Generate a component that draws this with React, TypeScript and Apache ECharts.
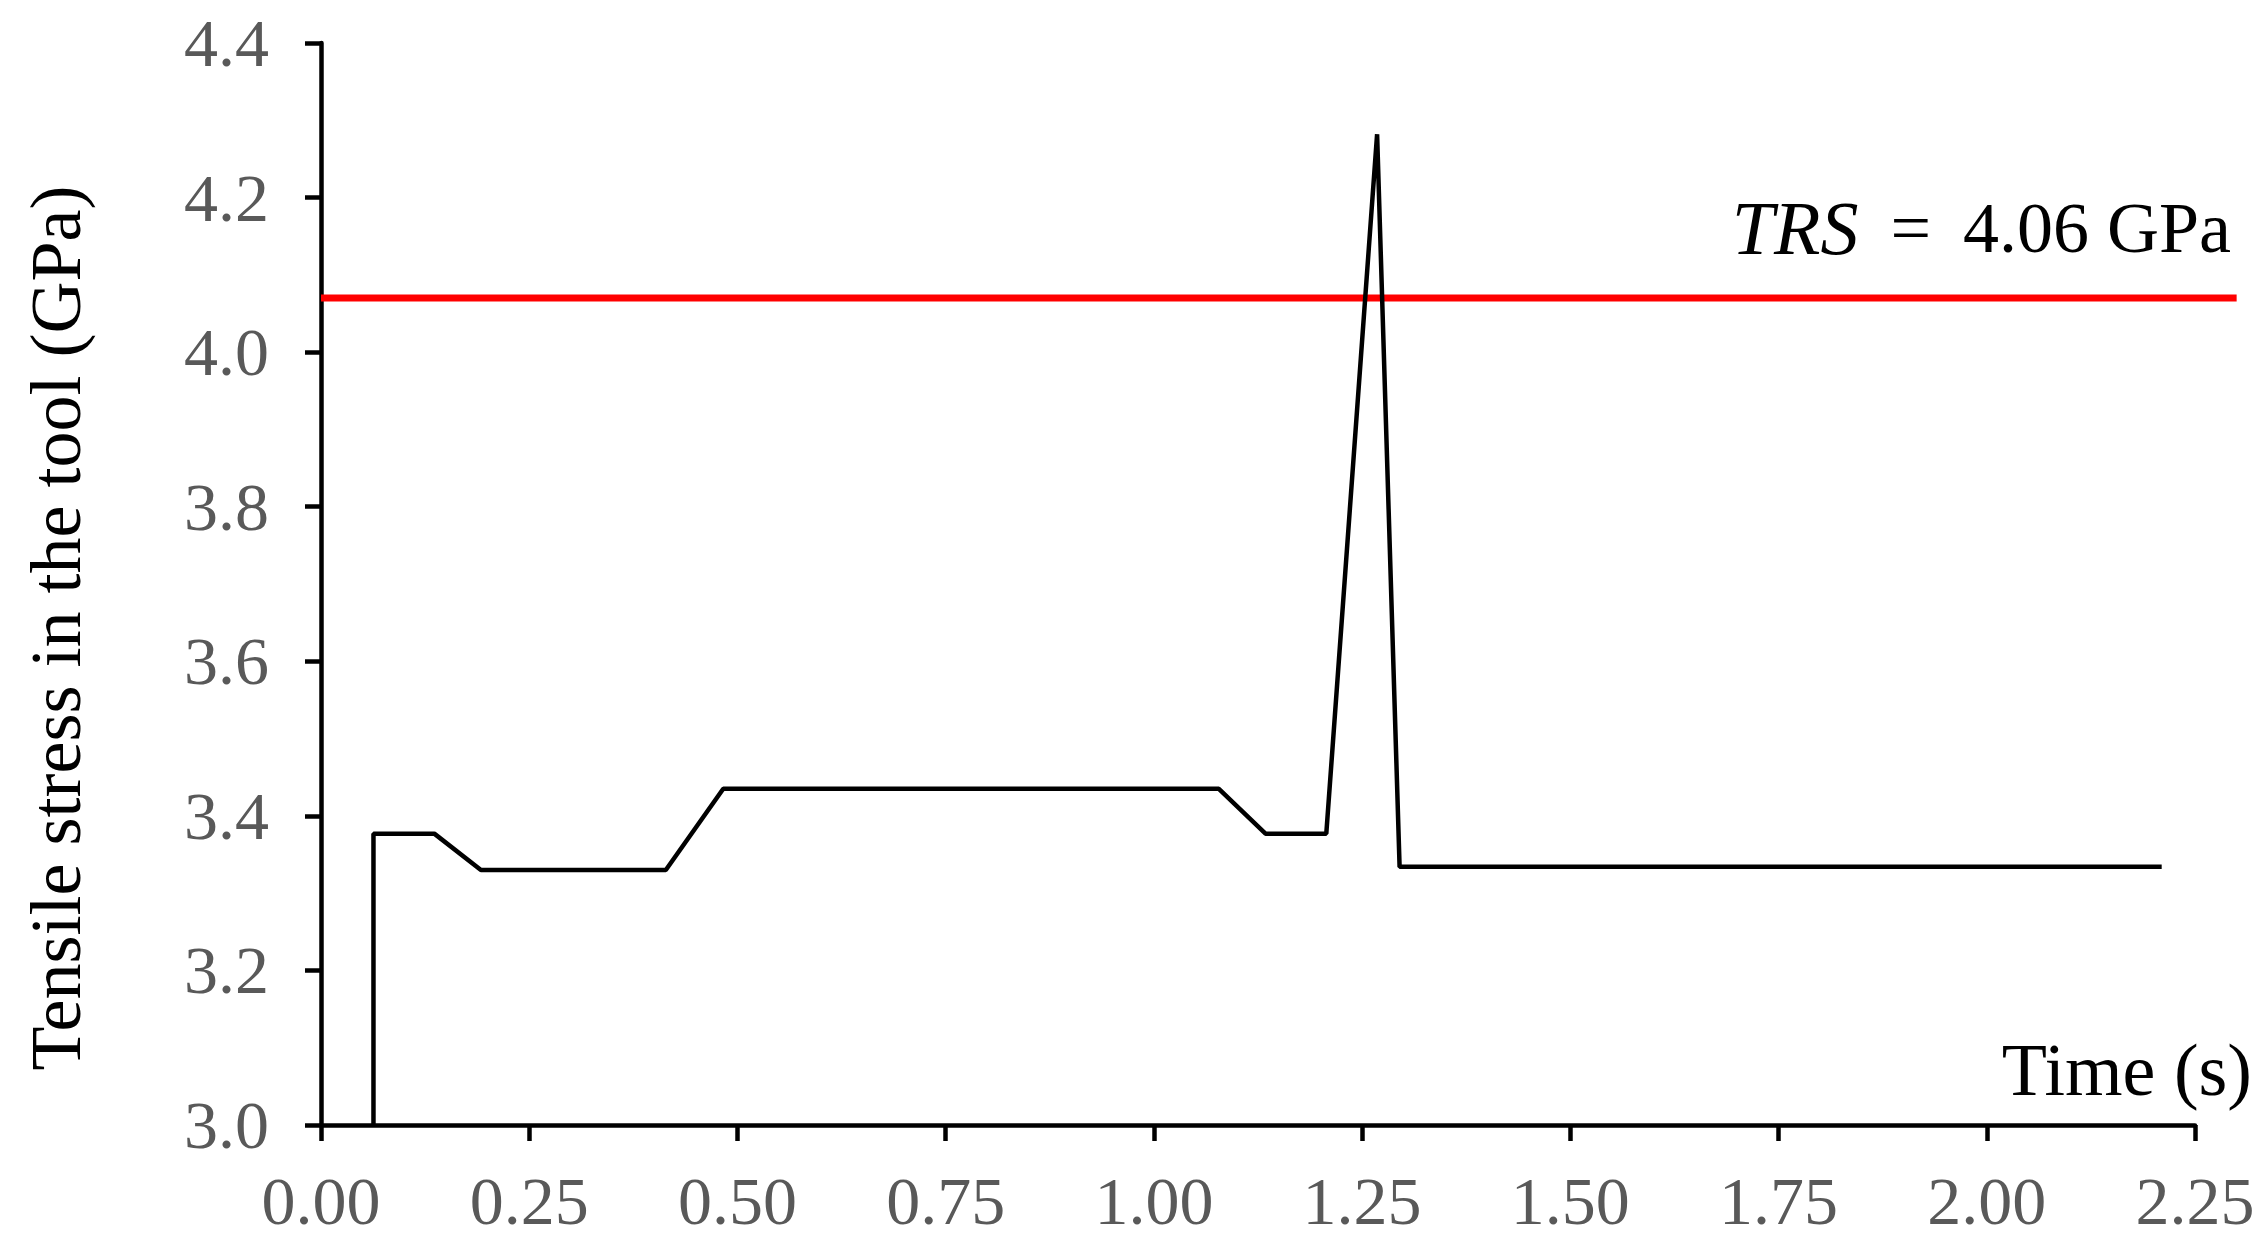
import React, { useEffect, useRef } from "react";
import * as echarts from "echarts";

// Time (s) and tensile stress in the tool (GPa)
const timeS = [0.063, 0.063, 0.136, 0.192, 0.414, 0.483, 1.078, 1.134, 1.207, 1.268, 1.295, 2.21];
const stressGPa = [3.0, 3.377, 3.377, 3.330, 3.330, 3.435, 3.435, 3.377, 3.377, 4.282, 3.334, 3.334];

// Transverse rupture strength reference line (drawn slightly past the axis end)
const trsTime = [0, 2.3];
const trsValue = [4.07, 4.07];

const xTicks = { min: 0, max: 2.25, interval: 0.25 };
const yTicks = { min: 3.0, max: 4.4, interval: 0.2 };

const FONT = "'Liberation Serif', 'Times New Roman', serif";

export default function App() {
  const ref = useRef<HTMLDivElement>(null);
  useEffect(() => {
    if (!ref.current) return;
    const chart = echarts.init(ref.current, null, { renderer: "svg" });
    const stressData = timeS.map((t, i) => [t, stressGPa[i]]);
    const axisStyle = { color: "#000", width: 4.5 };
    chart.setOption({
      animation: false,
      backgroundColor: "#ffffff",
      grid: { left: 321, top: 43, right: 72, bottom: 125, containLabel: false },
      xAxis: {
        type: "value",
        min: xTicks.min,
        max: xTicks.max,
        interval: xTicks.interval,
        axisLine: { show: true, onZero: false, lineStyle: axisStyle },
        axisTick: { show: true, inside: false, length: 16, lineStyle: axisStyle },
        splitLine: { show: false },
        axisLabel: {
          color: "#595959",
          fontFamily: FONT,
          fontSize: 68,
          margin: 42,
          formatter: (v: number) => v.toFixed(2),
        },
      },
      yAxis: {
        type: "value",
        min: yTicks.min,
        max: yTicks.max,
        interval: yTicks.interval,
        axisLine: { show: true, onZero: false, lineStyle: axisStyle },
        axisTick: { show: true, inside: false, length: 16, lineStyle: axisStyle },
        splitLine: { show: false },
        axisLabel: {
          color: "#595959",
          fontFamily: FONT,
          fontSize: 68,
          margin: 52,
          formatter: (v: number) => v.toFixed(1),
        },
      },
      series: [
        {
          type: "line",
          data: stressData,
          showSymbol: false,
          symbol: "none",
          lineStyle: { color: "#000000", width: 4.5 },
          z: 3,
        },
      ],
    });

    const p0 = chart.convertToPixel({ gridIndex: 0 }, [trsTime[0], trsValue[0]]) as number[];
    const p1 = chart.convertToPixel({ gridIndex: 0 }, [trsTime[1], trsValue[1]]) as number[];

    chart.setOption({
      graphic: [
        {
          type: "line",
          z: 1,
          shape: { x1: p0[0], y1: p0[1], x2: p1[0], y2: p1[1] },
          style: { stroke: "#ff0000", lineWidth: 7 },
        },
        {
          type: "text",
          x: 56,
          y: 628,
          rotation: Math.PI / 2,
          style: {
            text: "Tensile stress in the tool (GPa)",
            fontFamily: FONT,
            fontSize: 72,
            fill: "#000",
            align: "center",
            verticalAlign: "middle",
          },
        },
        {
          type: "text",
          x: 2252,
          y: 1070,
          style: {
            text: "Time (s)",
            fontFamily: FONT,
            fontSize: 74,
            fill: "#000",
            align: "right",
            verticalAlign: "middle",
          },
        },
        {
          type: "text",
          x: 2231,
          y: 228,
          style: {
            text: "{i|TRS}{e|=}4.06 GPa",
            fontFamily: FONT,
            fontSize: 72,
            fill: "#000",
            align: "right",
            verticalAlign: "middle",
            rich: {
              i: { fontFamily: FONT, fontSize: 76, fontStyle: "italic", fill: "#000" },
              e: { fontFamily: FONT, fontSize: 72, fill: "#000", padding: [0, 32, 0, 32] },
            },
          },
        },
      ],
    });
    return () => chart.dispose();
  }, []);
  return (
    <div
      ref={ref}
      style={{ position: "absolute", left: 0, top: 0, width: 2267, height: 1250 }}
    />
  );
}
